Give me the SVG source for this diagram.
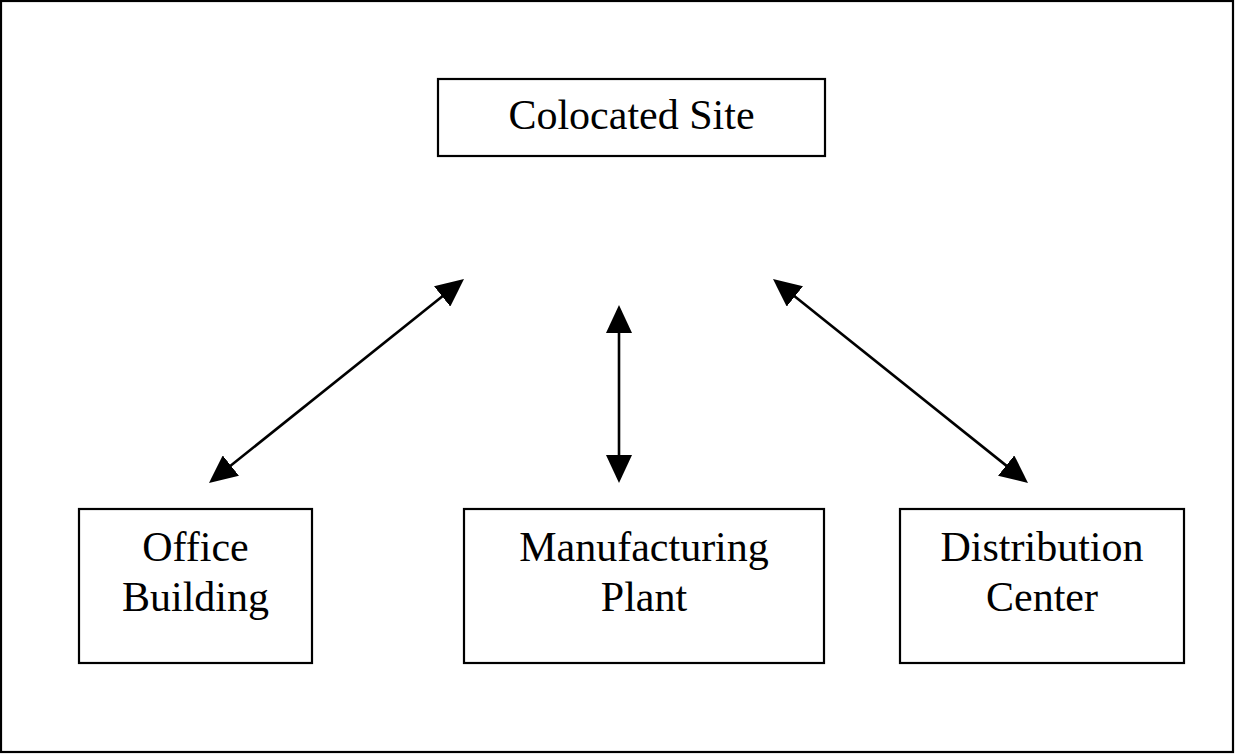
<svg xmlns="http://www.w3.org/2000/svg" width="1235" height="754" viewBox="0 0 1235 754">
  <style>
    .box { fill: #ffffff; stroke: #000000; stroke-width: 2.2; }
    .lbl { font-family: "Liberation Serif", "Times New Roman", serif; font-size: 42px; fill: #000000; text-anchor: middle; }
    .conn { stroke: #000000; stroke-width: 2.6; fill: none; marker-start: url(#arrow); marker-end: url(#arrow); }
  </style>
  <defs>
    <marker id="arrow" viewBox="0 0 28 26" markerUnits="userSpaceOnUse" markerWidth="28" markerHeight="26" refX="18" refY="13" orient="auto-start-reverse">
      <path d="M0,0 L28,13 L0,26 Z" fill="#000000"/>
    </marker>
  </defs>
  <rect x="0" y="0" width="1235" height="754" fill="#ffffff"/>
  <rect id="frame" x="1" y="1" width="1232" height="751" class="box"/>

  <g id="colocated-site">
    <rect x="438" y="79" width="387" height="77" class="box"/>
    <text x="631.5" y="129" class="lbl">Colocated Site</text>
  </g>
  <g id="office-building">
    <rect x="79" y="509" width="233" height="154" class="box"/>
    <text x="195.5" y="561" class="lbl">Office</text>
    <text x="195.5" y="611" class="lbl">Building</text>
  </g>
  <g id="manufacturing-plant">
    <rect x="464" y="509" width="360" height="154" class="box"/>
    <text x="644" y="561" class="lbl">Manufacturing</text>
    <text x="644" y="611" class="lbl">Plant</text>
  </g>
  <g id="distribution-center">
    <rect x="900" y="509" width="284" height="154" class="box"/>
    <text x="1042" y="561" class="lbl">Distribution</text>
    <text x="1042" y="611" class="lbl">Center</text>
  </g>

  <g id="connectors">
    <line x1="216.8" y1="476.75" x2="456.2" y2="285.25" class="conn"/>
    <line x1="619" y1="315" x2="619" y2="473" class="conn"/>
    <line x1="780.8" y1="285.25" x2="1020.2" y2="476.75" class="conn"/>
  </g>
</svg>
